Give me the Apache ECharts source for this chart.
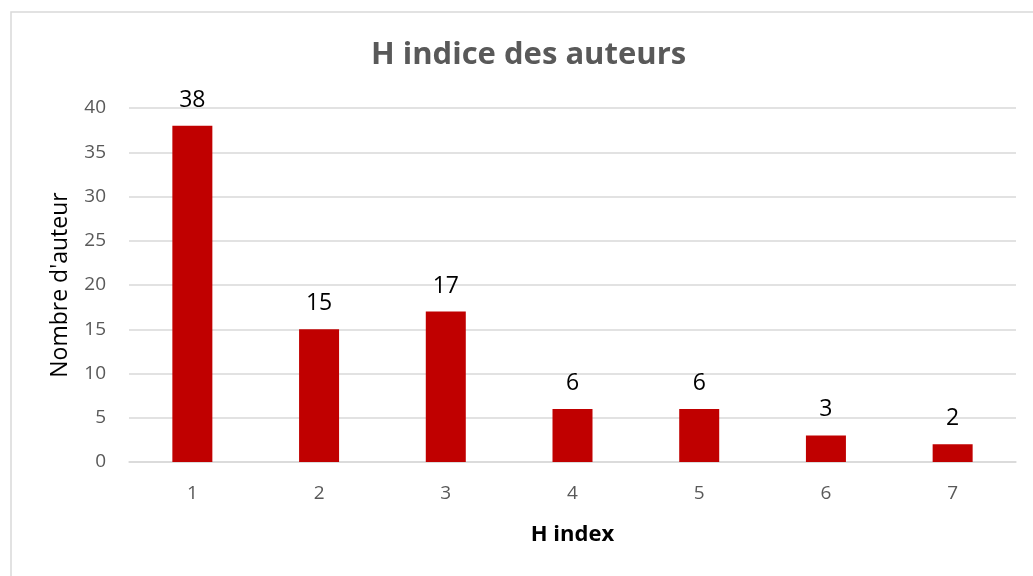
<!DOCTYPE html>
<html>
<head>
<meta charset="utf-8">
<script src="https://cdn.jsdelivr.net/npm/echarts@6/dist/echarts.min.js"></script>
<style>
  html, body { margin: 0; padding: 0; background: #fff; }
  #main { width: 1033px; height: 576px; }
</style>
</head>
<body>
<div id="main"></div>
<script>
const categories = ["1", "2", "3", "4", "5", "6", "7"];
const authorCounts = [38, 15, 17, 6, 6, 3, 2];
const yTicks = [0, 5, 10, 15, 20, 25, 30, 35, 40];

const chart = echarts.init(document.getElementById("main"));

const option = {
  backgroundColor: "#fff",
  animation: false,
  textStyle: { fontFamily: "Open Sans" },
  graphic: [
    {
      type: "rect",
      left: 8.5,
      top: 9.5,
      shape: { width: 1100, height: 700 },
      style: { fill: "none", stroke: "#d9d9d9", lineWidth: 1.5 },
    },
  ],
  title: {
    text: "H indice des auteurs",
    left: 366,
    top: 35,
    textStyle: { fontSize: 31, fontWeight: "bold", color: "#595959" },
  },
  grid: { left: 129, right: 17, top: 108, bottom: 114 },
  xAxis: {
    type: "category",
    data: categories,
    name: "H index",
    nameLocation: "middle",
    nameGap: 62,
    nameTextStyle: { fontSize: 22, fontWeight: "bold", color: "#000" },
    axisLine: { show: true, lineStyle: { color: "#d9d9d9", width: 1.5 } },
    axisTick: { show: false },
    axisLabel: { fontSize: 19, color: "#595959", margin: 22 },
  },
  yAxis: {
    type: "value",
    min: 0,
    max: yTicks[yTicks.length - 1],
    interval: 5,
    name: "Nombre d'auteur",
    nameLocation: "middle",
    nameGap: 57,
    nameTextStyle: { fontSize: 23, color: "#000" },
    axisLine: { show: false },
    axisTick: { show: false },
    axisLabel: { fontSize: 19, color: "#595959", margin: 23 },
    splitLine: { lineStyle: { color: "#d9d9d9", width: 1.5 } },
  },
  series: [
    {
      type: "bar",
      data: authorCounts,
      barWidth: 40,
      itemStyle: { color: "#c00000" },
      label: {
        show: true,
        position: "top",
        distance: 14,
        fontSize: 23,
        color: "#000",
      },
    },
  ],
};

chart.setOption(option);
</script>
</body>
</html>
